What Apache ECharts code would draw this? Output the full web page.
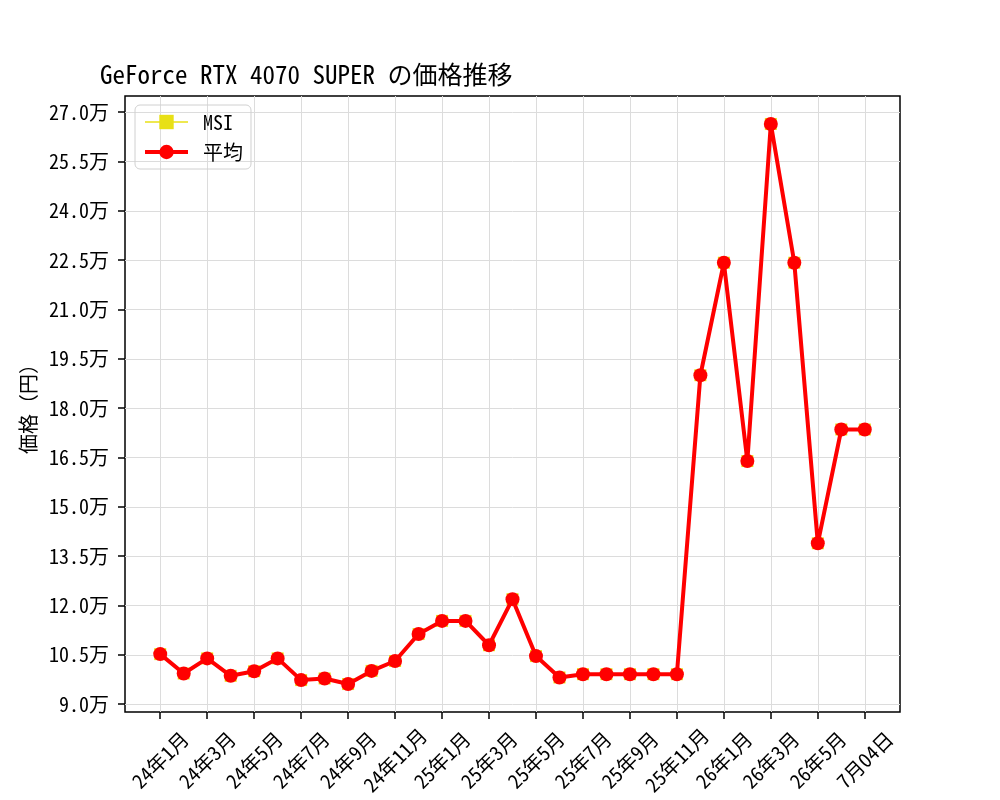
<!DOCTYPE html>
<html>
<head>
<meta charset="utf-8">
<script src="https://cdn.jsdelivr.net/npm/echarts@6/dist/echarts.min.js"></script>
<style>html,body{margin:0;padding:0;background:#fff}#c{width:1000px;height:800px}</style>
</head>
<body>
<div id="c"></div>
<script>
const categories = ['24年1月','24年2月','24年3月','24年4月','24年5月','24年6月','24年7月','24年8月','24年9月','24年10月','24年11月','24年12月',
  '25年1月','25年2月','25年3月','25年4月','25年5月','25年6月','25年7月','25年8月','25年9月','25年10月','25年11月','25年12月',
  '26年1月','26年2月','26年3月','26年4月','26年5月','26年6月','7月04日'];
const msiValues = [105200, 99300, 103900, 98600, 100000, 103900, 97300, 97800, 96100, 100100, 103100, 111300,
  115300, 115300, 107900, 121900, 104600, 98100, 99100, 99100, 99100, 99100, 99100, 190000,
  224200, 163900, 266400, 224200, 138900, 173500, 173500];
const avgValues = msiValues.slice();
const yTicks = [90000,105000,120000,135000,150000,165000,180000,195000,210000,225000,240000,255000,270000];
const xTickIdx = [0,2,4,6,8,10,12,14,16,18,20,22,24,26,28,30];

const FONT = '"Noto Sans Mono CJK JP", "DejaVu Sans Mono", "Noto Sans CJK JP", monospace';
const chart = echarts.init(document.getElementById('c'));
chart.setOption({
  animation: false,
  textStyle: { fontFamily: FONT },
  title: {
    text: 'GeForce RTX 4070 SUPER の価格推移',
    left: 95, top: 57,
    textStyle: { fontFamily: FONT, fontSize: 25, fontWeight: 'normal', color: '#000' }
  },
  legend: {
    left: 135, top: 105, orient: 'vertical',
    padding: [6, 8, 6, 8], itemGap: 8, itemWidth: 43, itemHeight: 18,
    borderColor: '#d0d0d0', borderWidth: 1, borderRadius: 5,
    textStyle: { fontFamily: FONT, fontSize: 20, lineHeight: 22, color: '#000', padding: [0,0,0,10] },
    data: [
      { name: 'MSI', lineStyle: { width: 1.5 } },
      { name: '平均', lineStyle: { width: 4 } }
    ]
  },
  grid: {
    left: 125, right: 100, top: 96, bottom: 88,
    show: true, borderColor: '#000', borderWidth: 1.5, containLabel: false
  },
  xAxis: {
    type: 'value', min: -1.5, max: 31.5,
    axisLine: { show: false, onZero: false },
    axisTick: { show: true, length: 7, customValues: xTickIdx, lineStyle: { color: '#000', width: 1.5 } },
    axisLabel: {
      customValues: xTickIdx, rotate: 45, margin: 48, align: 'center', verticalAlign: 'middle',
      fontFamily: FONT, fontSize: 20, color: '#000',
      formatter: v => categories[Math.round(v)] || ''
    },
    splitLine: { show: true, lineStyle: { color: '#dcdcdc', width: 1 } }
  },
  yAxis: {
    type: 'value', min: 87600, max: 274900,
    name: '価格（円）', nameLocation: 'middle', nameGap: 86,
    nameTextStyle: { fontFamily: FONT, fontSize: 20, color: '#000' },
    axisLine: { show: false, onZero: false },
    axisTick: { show: true, length: 7, customValues: yTicks, lineStyle: { color: '#000', width: 1.5 } },
    axisLabel: {
      customValues: yTicks, margin: 16,
      fontFamily: FONT, fontSize: 20, color: '#000',
      formatter: v => (v / 10000).toFixed(1) + '万'
    },
    splitLine: { show: true, lineStyle: { color: '#dcdcdc', width: 1 } }
  },
  series: [
    {
      name: 'MSI', type: 'line',
      data: msiValues.map((v, i) => [i, v]),
      symbol: 'rect', symbolSize: 12, showAllSymbol: true,
      itemStyle: { color: '#e8e016' },
      lineStyle: { color: '#e8e016', width: 1.5 },
      z: 2
    },
    {
      name: '平均', type: 'line',
      data: avgValues.map((v, i) => [i, v]),
      symbol: 'circle', symbolSize: 14, showAllSymbol: true,
      itemStyle: { color: '#ff0000' },
      lineStyle: { color: '#ff0000', width: 4 },
      z: 3
    }
  ]
});
</script>
</body>
</html>
